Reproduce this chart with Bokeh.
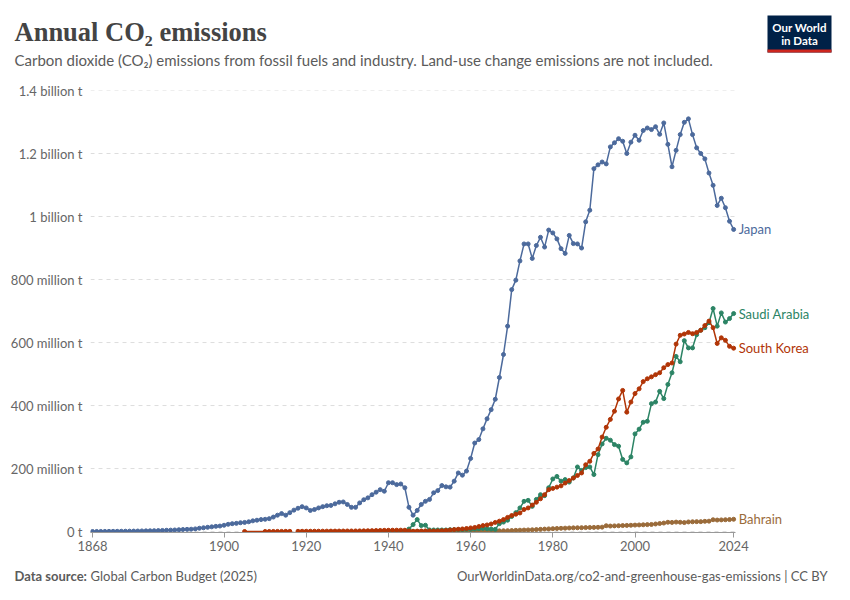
from bokeh.plotting import figure
from bokeh.layouts import column
from bokeh.models import Range1d, FixedTicker, Label, BoxAnnotation
from bokeh.embed import file_html
from bokeh.resources import INLINE

# ---------------- data (million tonnes CO2) ----------------
japan_years = list(range(1868, 2025))
japan = [
    0.2, 0.3, 0.4, 0.5, 0.6, 0.7, 0.8, 1.0, 1.1, 1.3,          # 1868-1877
    1.5, 1.7, 2.0, 2.2, 2.5, 2.8, 3.1, 3.5, 4.0, 4.5,          # 1878-1887
    5.0, 5.8, 6.5, 7.0, 7.5, 8.5, 10.5, 12, 13.5, 15,          # 1888-1897
    16.5, 17.5, 20, 23, 25, 26, 28, 29, 31, 34,                # 1898-1907
    36, 38, 39, 41, 46, 52, 57, 52, 60, 68,                    # 1908-1917
    74, 79, 75, 67, 70, 75, 79, 82, 83, 88,                    # 1918-1927
    93, 94, 86, 77, 77, 91, 101, 107, 117, 125,                # 1928-1937
    133, 128, 155, 155, 149, 151, 139, 77, 52, 67,             # 1938-1947
    86, 96, 102, 123, 130, 146, 142, 141, 160, 186,            # 1948-1957
    179, 192, 232, 281, 292, 326, 358, 387, 420, 489,          # 1958-1967
    562, 652, 768, 798, 859, 913, 913, 867, 908, 934,          # 1968-1977
    903, 957, 948, 929, 898, 883, 940, 914, 913, 900,          # 1978-1987
    983, 1020, 1152, 1164, 1173, 1167, 1221, 1234, 1247, 1239, # 1988-1997
    1200, 1236, 1258, 1242, 1273, 1281, 1276, 1285, 1261, 1297,# 1998-2007
    1229, 1158, 1210, 1260, 1299, 1310, 1260, 1218, 1200, 1183,# 2008-2017
    1138, 1099, 1035, 1058, 1028, 985, 959,                    # 2018-2024
]

korea_years = [1905] + list(range(1910, 2025))
korea = [0.2] + [
    0.3, 0.3, 0.4, 0.5, 0.5, 0.6, 0.6, float("nan"), 0.8, 0.9,  # 1910-1919
    1.0, 1.0, 1.1, 1.2, 1.2, 1.3, 1.4, 1.5, 1.6, 1.7,           # 1920-1929
    1.8, 1.8, 1.9, 2.1, 2.3, 2.6, 2.9, 3.2, 3.5, 3.8,           # 1930-1939
    4.0, 4.2, 4.3, 4.4, 4.2, 2.0, 1.0, 1.4, 1.7, 2.0,           # 1940-1949
    2.1, 1.5, 2.0, 2.8, 3.6, 4.9, 6.2, 7.5, 8.3, 9.6,           # 1950-1959
    11.5, 13, 16, 19, 21, 24, 29, 33, 38, 45,                   # 1960-1969
    51, 55, 59, 70, 75, 84, 93, 104, 117, 133,                  # 1970-1979
    137, 141, 145, 154, 162, 170, 178, 186, 212, 223,           # 1980-1989
    248, 262, 300, 331, 356, 382, 421, 448, 379, 411,           # 1990-1999
    438, 453, 476, 485, 491, 498, 504, 520, 530, 535,           # 2000-2009
    595, 623, 627, 632, 628, 632, 639, 654, 668, 647,           # 2010-2019
    597, 615, 607, 588, 582,                                    # 2020-2024
]

saudi_years = list(range(1936, 2025))
saudi = [
    0.1, 0.1, 0.2, 0.3, 0.3, 0.3, 0.3, 0.4, 2, 8,               # 1936-1945
    22, 38, 19, 20, 5, 5, 5, 5, 5, 6,                           # 1946-1955
    6, 6, 6, 7, 7, 8, 9, 10, 9, 8,                              # 1956-1965
    7, 25, 30, 36, 48, 60, 75, 96, 99, 80,                      # 1966-1975
    102, 117, 114, 139, 167, 175, 160, 165, 157, 170,           # 1976-1985
    205, 194, 203, 205, 181, 244, 278, 296, 290, 276,           # 1986-1995
    271, 229, 218, 237, 310, 325, 347, 350, 406, 411,           # 1996-2005
    445, 422, 467, 504, 556, 539, 606, 583, 583, 625,           # 2006-2015
    639, 647, 663, 708, 652, 694, 665, 676, 692,                # 2016-2024
]

bahrain_years = list(range(1933, 2025))
bahrain = [
    0.1, 0.1, 0.1, 0.2, 0.2, 0.2, 0.3, 0.3, 0.3, 0.3,           # 1933-1942
    0.3, 0.3, 0.4, 0.5, 0.6, 0.7, 0.8, 0.8, 0.9, 0.9,           # 1943-1952
    1.0, 1.0, 1.1, 1.1, 1.2, 1.2, 1.3, 1.3, 1.4, 1.5,           # 1953-1962
    1.6, 1.7, 1.8, 2.0, 2.2, 2.5, 2.8, 3.2, 3.8, 4.3,           # 1963-1972
    4.8, 5.2, 5.6, 6.2, 7.0, 7.8, 8.5, 9.2, 9.8, 10.3,          # 1973-1982
    10.8, 11.3, 11.7, 12.0, 12.3, 12.6, 12.9, 13.2, 13.5, 14.0, # 1983-1992
    18.5, 17.5, 18.0, 18.5, 19.0, 19.5, 20.0, 20.5, 21.0, 21.5, # 1993-2002
    22.0, 22.5, 24.0, 25.5, 27.0, 29.5, 29.0, 30.0, 29.5, 28.5, # 2003-2012
    30.5, 31.0, 31.5, 31.5, 32.5, 33.0, 37.5, 36.5, 37.0, 37.5, # 2013-2022
    38.0, 39.0,                                                 # 2023-2024
]

x_ticks = [1868, 1900, 1920, 1940, 1960, 1980, 2000, 2024]
y_ticks = [0, 200, 400, 600, 800, 1000, 1200, 1400]
y_tick_labels = ["0 t", "200 million t", "400 million t", "600 million t",
                 "800 million t", "1 billion t", "1.2 billion t", "1.4 billion t"]

series = [
    ("Bahrain", bahrain_years, bahrain, "#9a6b3a"),
    ("Saudi Arabia", saudi_years, saudi, "#2c8465"),
    ("South Korea", korea_years, korea, "#b13507"),
    ("Japan", japan_years, japan, "#4c6a9c"),
]

FONT = "Lato"
W = 834
HH, HM, HF = 75, 485, 30     # header, main chart, footer heights


def blank(height):
    f = figure(width=W, height=height, output_backend="svg", toolbar_location=None,
               x_axis_type=None, y_axis_type=None, title=None,
               x_range=Range1d(0, W), y_range=Range1d(0, height), min_border=0)
    f.frame_align = False
    f.outline_line_color = None
    f.background_fill_color = "white"
    f.border_fill_color = "white"
    return f


# ---------------- header ----------------
head = blank(HH)
head.add_layout(Label(x=14, y=HH - 31, text="Annual CO\u2082 emissions",
                      text_font="Liberation Serif", text_font_size="26.5px",
                      text_font_style="bold",
                      text_color="#444444", text_baseline="alphabetic"))
head.add_layout(Label(x=14, y=HH - 59,
                      text="Carbon dioxide (CO\u2082) emissions from fossil fuels and industry. "
                           "Land-use change emissions are not included.",
                      text_font=FONT, text_font_size="15px", text_color="#5b5b5b",
                      text_baseline="alphabetic"))
head.add_layout(BoxAnnotation(left=767, right=831, top=HH - 15, bottom=HH - 52,
                              fill_color="#002147", fill_alpha=1, line_color=None))
head.add_layout(BoxAnnotation(left=767, right=831, top=HH - 49, bottom=HH - 52,
                              fill_color="#ce261e", fill_alpha=1, line_color=None))
head.add_layout(Label(x=799, y=HH - 27, text="Our World", text_font=FONT,
                      text_font_size="11.5px", text_font_style="bold",
                      text_color="white", text_align="center", text_baseline="middle"))
head.add_layout(Label(x=799, y=HH - 40, text="in Data", text_font=FONT,
                      text_font_size="11.5px", text_font_style="bold",
                      text_color="white", text_align="center", text_baseline="middle"))

# ---------------- main chart ----------------
X0 = japan_years[0] - 0.5
X1 = japan_years[-1] + 0.5
X_END = 2046.6   # frame continues right so the end-of-line labels are drawn

p = figure(width=W, height=HM, output_backend="svg", toolbar_location=None,
           x_range=Range1d(X0, X_END), y_range=Range1d(-3, 1400),
           min_border_left=90, min_border_right=8,
           min_border_top=15, min_border_bottom=28)
p.frame_align = False
p.outline_line_color = None
p.background_fill_color = "white"
p.border_fill_color = "white"

p.xgrid.grid_line_color = None
p.ygrid.grid_line_color = None
p.segment(x0=[X0] * len(y_ticks), x1=[X1] * len(y_ticks), y0=y_ticks, y1=y_ticks,
          line_color="#dddddd", line_dash="4 4", line_width=1)

p.yaxis.ticker = FixedTicker(ticks=y_ticks)
p.yaxis.major_label_overrides = {float(t): l for t, l in zip(y_ticks, y_tick_labels)}
p.yaxis.axis_line_color = None
p.yaxis.major_tick_line_color = None
p.yaxis.minor_tick_line_color = None
p.yaxis.major_label_standoff = 2
p.yaxis.major_label_text_font = FONT
p.yaxis.major_label_text_font_size = "13px"
p.yaxis.major_label_text_color = "#666666"

p.xaxis.ticker = FixedTicker(ticks=x_ticks)
p.xaxis.bounds = (X0, X1)
p.xaxis.axis_line_color = "#999999"
p.xaxis.major_tick_line_color = "#999999"
p.xaxis.major_tick_in = 0
p.xaxis.major_tick_out = 5
p.xaxis.minor_tick_line_color = None
p.xaxis.major_label_standoff = 3
p.xaxis.major_label_text_font = FONT
p.xaxis.major_label_text_font_size = "13px"
p.xaxis.major_label_text_color = "#666666"

for name, xs, ys, color in series:
    p.line(xs, ys, line_color=color, line_width=1.5)
    p.scatter(xs, ys, size=4, fill_color=color, line_color=color)
    p.add_layout(Label(x=xs[-1], y=ys[-1], x_offset=5, text=name,
                       text_font=FONT, text_font_size="13px", text_color=color,
                       text_baseline="middle", text_align="left"))

# ---------------- footer ----------------
foot = blank(HF)
foot.add_layout(Label(x=14, y=15, text="Data source:", text_font=FONT,
                      text_font_size="13px", text_font_style="bold",
                      text_color="#5b5b5b", text_baseline="alphabetic"))
foot.add_layout(Label(x=90, y=15, text="Global Carbon Budget (2025)", text_font=FONT,
                      text_font_size="13px", text_color="#5b5b5b",
                      text_baseline="alphabetic"))
foot.add_layout(Label(x=827, y=15,
                      text="OurWorldinData.org/co2-and-greenhouse-gas-emissions | CC BY",
                      text_font=FONT, text_font_size="13px", text_color="#5b5b5b",
                      text_align="right", text_baseline="alphabetic"))

layout = column(head, p, foot, spacing=0)
open("out.html", "w").write(file_html(layout, INLINE))
